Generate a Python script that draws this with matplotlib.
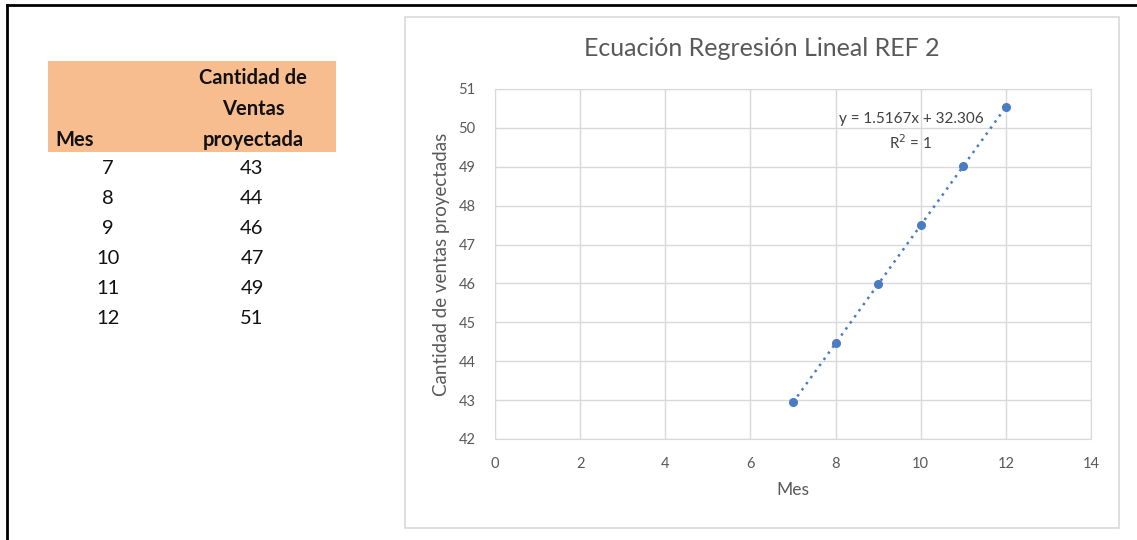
import numpy as np
import matplotlib.pyplot as plt
from matplotlib.patches import Rectangle
from matplotlib.lines import Line2D

plt.rcParams['font.family'] = ['Lato', 'DejaVu Sans']

# table on the left (rounded values)
table_mes = [7, 8, 9, 10, 11, 12]
table_ventas = [43, 44, 46, 47, 49, 51]

# chart series (projected values, unrounded as plotted)
mes = np.array([7, 8, 9, 10, 11, 12])
ventas = np.array([42.94, 44.46, 45.98, 47.5, 49.01, 50.54])

title = "Ecuación Regresión Lineal REF 2"
x_label = "Mes"
y_label = "Cantidad de ventas proyectadas"
x_ticks = [0, 2, 4, 6, 8, 10, 12, 14]
y_ticks = [42, 43, 44, 45, 46, 47, 48, 49, 50, 51]

W, H = 1137, 540
fig = plt.figure(figsize=(W / 100, H / 100), dpi=100)


def fx(px):
    return px / W


def fy(py):
    return 1 - py / H


# screenshot frame (left and top edges)
fig.add_artist(Line2D([fx(7), fx(7)], [fy(5), 0], color="black", lw=2))
fig.add_artist(Line2D([fx(7), 1], [fy(5), fy(5)], color="black", lw=2))

# --- table ---
fig.add_artist(Rectangle((fx(48), fy(152)), fx(336) - fx(48), fy(61) - fy(152),
                         facecolor="#F8BD8F", edgecolor="none"))
hdr = dict(fontsize=14.5, fontweight="bold", color="#111111")
fig.text(fx(55), fy(140), "Mes", ha="left", va="center", **hdr)
for i, line in enumerate(["Cantidad de", "Ventas", "proyectada"]):
    fig.text(fx(253), fy(78 + i * 31), line, ha="center", va="center", **hdr)
for i, (m, v) in enumerate(zip(table_mes, table_ventas)):
    y = fy(168 + i * 30)
    fig.text(fx(108), y, str(m), ha="center", va="center", fontsize=14.5, color="#111111")
    fig.text(fx(252), y, str(v), ha="center", va="center", fontsize=14.5, color="#111111")

# --- chart ---
fig.add_artist(Rectangle((fx(405), fy(528)), fx(1119) - fx(405), fy(17) - fy(528),
                         facecolor="white", edgecolor="#D9D9D9", lw=1.2, zorder=-1))

ax = fig.add_axes([fx(495), fy(439), fx(1091) - fx(495), fy(89) - fy(439)])
ax.set_zorder(2)
ax.patch.set_alpha(0)
ax.set_xlim(0, 14)
ax.set_ylim(42, 51)
ax.set_xticks(x_ticks)
ax.set_yticks(y_ticks)
ax.grid(True, color="#D9D9D9", lw=1)
ax.set_axisbelow(True)
for s in ax.spines.values():
    s.set_color("#D9D9D9")
ax.tick_params(length=0, labelsize=10.5, colors="#595959")
ax.tick_params(axis="x", pad=13)
ax.tick_params(axis="y", pad=14)

ax.plot(mes, ventas, "o", color="#4A7CC4", ms=5.5, zorder=3)

# linear trendline
slope, intercept = np.polyfit(mes, ventas, 1)
xt = np.array([mes.min(), mes.max()])
ax.plot(xt, slope * xt + intercept, color="#4A7CC4", lw=1.8, ls=(0, (1, 2)), zorder=2)

ax.text(9.77, 50.23, "y = 1.5167x + 32.306", ha="center", va="center",
        fontsize=11, color="#404040")
ax.text(9.77, 49.62, "R$^2$ = 1", ha="center", va="center", fontsize=11, color="#404040")

fig.text(fx(762), fy(48), title, ha="center", va="center", fontsize=18, color="#595959")
ax.set_xlabel(x_label, fontsize=12.5, color="#595959", labelpad=8)
ax.set_ylabel(y_label, fontsize=13.5, color="#595959", labelpad=6)

fig.savefig("out.png", dpi=100)
